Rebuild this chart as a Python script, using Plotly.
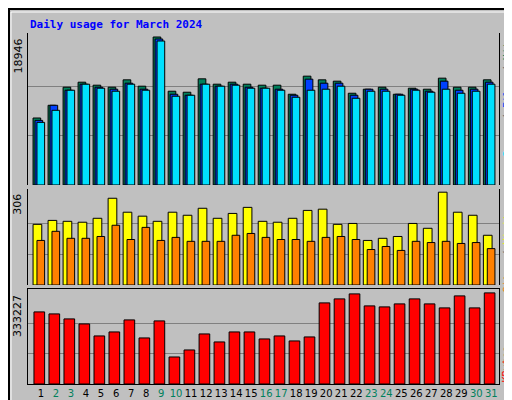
import plotly.graph_objects as go

days = list(range(1, 32))
day_labels = [str(d) for d in days]
weekend_days = [2, 3, 9, 10, 16, 17, 23, 24, 30, 31]

hits = [8574, 10203, 12518, 13161, 12775, 12518, 13461, 12647, 18946, 12004, 11875, 13590, 12904, 13161, 12904, 12775,
        12775, 11618, 13933, 13461, 13290, 11746, 12261, 12518, 11618, 12389, 12261, 13676, 12518, 12518, 13461]
files = [8274, 10203, 12132, 12904, 12518, 12261, 13032, 12261, 18691, 11618, 11489, 12904, 12647, 12904, 12518, 12389,
         12261, 11489, 13547, 13032, 13032, 11489, 12261, 12261, 11618, 12261, 12004, 13290, 12132, 12261, 13161]
pages = [8017, 9560, 12132, 12904, 12389, 12004, 12904, 12132, 18434, 11361, 11489, 12904, 12647, 12775, 12389, 12389,
         12132, 11232, 12132, 12261, 12647, 11103, 12004, 12004, 11489, 12132, 11875, 12261, 11746, 12004, 12904]
visits = [200, 213, 210, 207, 220, 286, 240, 227, 210, 240, 230, 253, 220, 236, 256, 210,
          207, 220, 246, 250, 200, 203, 147, 154, 160, 203, 187, 306, 240, 230, 164]
sites = [147, 177, 154, 154, 160, 197, 150, 190, 147, 157, 144, 144, 144, 164, 170, 157,
         150, 150, 144, 157, 160, 150, 117, 127, 114, 144, 140, 144, 137, 140, 120]
kbytes = [263650, 256326, 238017, 219708, 175766, 190414, 234355, 168443, 230693, 98869, 124501, 183090, 153796,
          190414, 190414, 164781, 175766, 157457, 172105, 296606, 311253, 329562, 285620, 281959, 292944, 311253,
          292944, 278297, 322238, 278297, 333227]

max_hits = max(hits)
max_visits = max(visits)
max_kb = max(kbytes)

line = dict(color="black", width=1)
fig = go.Figure()
fig.add_bar(x=days, y=hits, width=0.51, offset=-0.53, marker=dict(color="#00805C", line=line), yaxis="y3")
fig.add_bar(x=days, y=files, width=0.51, offset=-0.40, marker=dict(color="#0040FF", line=line), yaxis="y3")
fig.add_bar(x=days, y=pages, width=0.51, offset=-0.27, marker=dict(color="#00E0FF", line=line), yaxis="y3")
fig.add_bar(x=days, y=visits, width=0.58, offset=-0.53, marker=dict(color="#FFFF00", line=line), yaxis="y2")
fig.add_bar(x=days, y=sites, width=0.51, offset=-0.27, marker=dict(color="#FF8000", line=line), yaxis="y2")
fig.add_bar(x=days, y=kbytes, width=0.71, offset=-0.47, marker=dict(color="#FF0000", line=line), yaxis="y")

def yax(dom, top, mx):
    return dict(domain=dom, range=[0, top], tickvals=[mx / 3, 2 * mx / 3], showticklabels=False,
                showgrid=True, gridcolor="#808080", gridwidth=1, zeroline=False, ticks="", automargin=False,
                showline=True, linecolor="black", mirror=True, anchor="x", fixedrange=True)

ticktext = [f"<span style='color:#00805C'>{d}</span>" if d in weekend_days else d_ for d, d_ in zip(days, day_labels)]

fig.update_layout(
    width=512, height=400, showlegend=False, barmode="overlay",
    paper_bgcolor="#C0C0C0", plot_bgcolor="#C0C0C0",
    margin=dict(l=20, r=21, t=25, b=24, autoexpand=False),
    font=dict(family="DejaVu Sans Mono", size=11, color="black"),
    xaxis=dict(type="linear", range=[0.133, 31.51], tickvals=days, ticktext=ticktext, showgrid=False, zeroline=False,
               ticks="", tickangle=0, automargin=False, showline=True, linecolor="black", mirror=True,
               fixedrange=True, tickfont=dict(size=10, family="DejaVu Sans")),
    yaxis=yax([0, 0.271], max_kb * 285 / 273, max_kb),
    yaxis2=yax([0.282, 0.556], max_visits * 287 / 277, max_visits),
    yaxis3=yax([0.567, 1], max_hits * 152 / 148, max_hits),
)

fig.add_annotation(text="<b>Daily usage for March 2024</b>", xref="paper", yref="paper", x=-0.0, y=1 + 9 / 351,
                   xanchor="left", yanchor="middle", showarrow=False,
                   font=dict(color="#0000FF", size=11, family="DejaVu Sans Mono"))
for val, yr in [(max_hits, "y3"), (max_visits, "y2"), (max_kb, "y")]:
    fig.add_annotation(text=str(val), xref="paper", yref=yr, x=-0.003, y=val, xanchor="right", yanchor="top",
                       textangle=-90, showarrow=False, font=dict(size=11, family="DejaVu Sans"))
fig.add_annotation(text="<span style='color:#00E0FF'>Pages</span> / <span style='color:#0040FF'>Files</span> / <span style='color:#00805C'>Hits</span>",
                   xref="paper", yref="y3", x=1.002, y=max_hits * 1.02, xanchor="left", yanchor="top",
                   textangle=-90, showarrow=False, font=dict(size=10, family="DejaVu Sans Mono", color="#606060"))
fig.add_annotation(text="<span style='color:#FF8000'>Sites</span> / <span style='color:#FFFF00'>Visits</span>",
                   xref="paper", yref="y2", x=1.002, y=max_visits * 0.85, xanchor="left", yanchor="top",
                   textangle=-90, showarrow=False, font=dict(size=10, family="DejaVu Sans Mono", color="#606060"))
fig.add_annotation(text="<span style='color:#FF0000'>KBytes</span>",
                   xref="paper", yref="y", x=1.002, y=0, xanchor="left", yanchor="bottom",
                   textangle=-90, showarrow=False, font=dict(size=10, family="DejaVu Sans Mono"))

fig.add_shape(type="rect", xref="paper", yref="paper", x0=-19 / 471, x1=1 + 20 / 471, y0=-23 / 351, y1=1 + 24 / 351,
              line=dict(color="black", width=2))
fig.add_shape(type="rect", xref="paper", yref="paper", x0=-17 / 471, x1=1 + 17 / 471, y0=-20 / 351, y1=1 + 21 / 351,
              line=dict(color="white", width=1))

fig.write_html("out.html")
